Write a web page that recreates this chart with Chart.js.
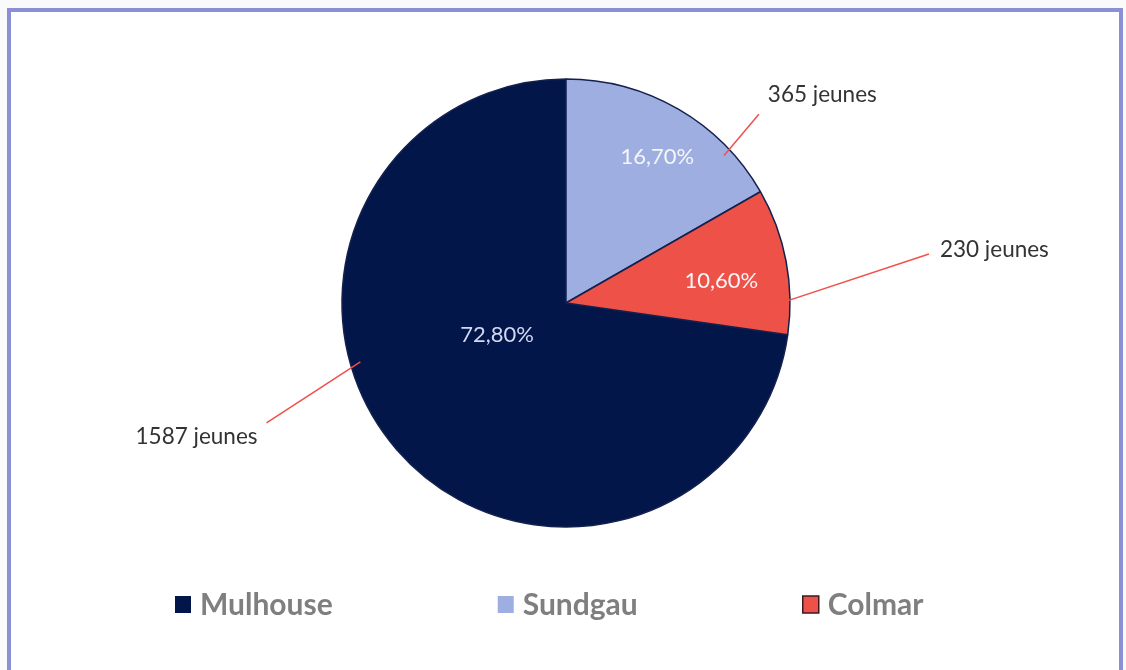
<!DOCTYPE html>
<html>
<head>
<meta charset="utf-8">
<script src="https://cdn.jsdelivr.net/npm/chart.js@4/dist/chart.umd.min.js"></script>
<style>
  body { margin: 0; background: #fafafa; overflow: hidden; }
  #frame {
    position: absolute; left: 7px; top: 8px; width: 1108px; height: 700px;
    border: 4px solid #8b90d4; background: #fff;
  }
  #wrap { position: absolute; left: 0; top: 0; width: 1126px; height: 670px; }
</style>
</head>
<body>
<div id="frame"></div>
<div id="wrap"><canvas id="pie" width="1126" height="670"></canvas></div>
<script>
'use strict';

// data
var regions = ['Mulhouse', 'Sundgau', 'Colmar'];
var youngCounts = [1587, 365, 230];
var shareLabels = ['72,80%', '16,70%', '10,60%'];
var regionColors = ['#02164a', '#9eaee0', '#ee5148'];

// label placement: [angle from north in degrees, fraction of radius]
var insidePos = [[245, 0.34], [32, 0.77], [82, 0.70]];
var leaderFrom = [[254, 0.955], [47, 0.965], [91.7, 0.88]];
var leaderTo = [[248.2, 1.44], [45.6, 1.205], [82.3, 1.635]];

function polar(arc, pos) {
  var a = (pos[0] - 90) * Math.PI / 180;
  var r = arc.outerRadius * pos[1];
  return { x: arc.x + r * Math.cos(a), y: arc.y + r * Math.sin(a) };
}

// percentages inside, counts outside with red leader lines
var sliceLabels = {
  id: 'sliceLabels',
  afterDatasetsDraw: function(chart) {
    var ctx = chart.ctx;
    var arcs = chart.getDatasetMeta(0).data;
    ctx.save();
    ctx.textBaseline = 'middle';
    arcs.forEach(function(arc, i) {
      var p = polar(arc, insidePos[i]);
      ctx.font = '22px Lato';
      ctx.textAlign = 'center';
      ctx.fillStyle = i === 0 ? '#d3d9f0' : '#f6f6f6';
      ctx.fillText(shareLabels[i], p.x, p.y);

      var a = polar(arc, leaderFrom[i]);
      var b = polar(arc, leaderTo[i]);
      ctx.strokeStyle = '#f0504a';
      ctx.lineWidth = 1.5;
      ctx.beginPath();
      ctx.moveTo(a.x, a.y);
      ctx.lineTo(b.x, b.y);
      ctx.stroke();

      ctx.fillStyle = '#333333';
      ctx.font = '22.5px Lato';
      var txt = youngCounts[i] + ' jeunes';
      if (b.x < arc.x) {
        ctx.textAlign = 'right';
        ctx.fillText(txt, b.x - 9, b.y + 14);
      } else if (i === 1) {
        ctx.textAlign = 'left';
        ctx.fillText(txt, b.x + 9, b.y - 19);
      } else {
        ctx.textAlign = 'left';
        ctx.fillText(txt, b.x + 11, b.y - 4);
      }
    });
    ctx.restore();
  }
};

// legend row under the pie
var bottomLegend = {
  id: 'bottomLegend',
  afterDraw: function(chart) {
    var ctx = chart.ctx;
    var box = 16, gap = 9, spacing = 165;
    ctx.save();
    ctx.font = 'bold 30px Lato';
    ctx.textBaseline = 'middle';
    ctx.textAlign = 'left';
    var widths = regions.map(function(r) { return ctx.measureText(r).width; });
    var x = 175;
    var y = 604;
    regions.forEach(function(r, i) {
      ctx.fillStyle = regionColors[i];
      ctx.fillRect(x, y - box / 2, box, box + 1);
      if (i === 2) {
        ctx.strokeStyle = '#3b1a20';
        ctx.lineWidth = 1.5;
        ctx.strokeRect(x, y - box / 2, box, box + 1);
      }
      ctx.fillStyle = '#7f7f7f';
      ctx.fillText(r, x + box + gap, y + 1);
      x += box + gap + widths[i] + spacing;
    });
    ctx.restore();
  }
};

var ctx = document.getElementById('pie');
var regionPie = new Chart(ctx, {
  type: 'pie',
  data: {
    labels: regions,
    datasets: [
      {
        data: youngCounts,
        backgroundColor: regionColors,
        borderColor: '#14214d',
        borderWidth: 1.5,
        radius: 224,
        rotation: 360 - 360 * youngCounts[0] / (youngCounts[0] + youngCounts[1] + youngCounts[2])
      }
    ]
  },
  options: {
    responsive: false,
    animation: false,
    events: [],
    layout: {
      padding: { left: 6, right: 0, top: 0, bottom: 64 }
    },
    plugins: {
      legend: { display: false },
      tooltip: { enabled: false }
    }
  },
  plugins: [sliceLabels, bottomLegend]
});
</script>
</body>
</html>
